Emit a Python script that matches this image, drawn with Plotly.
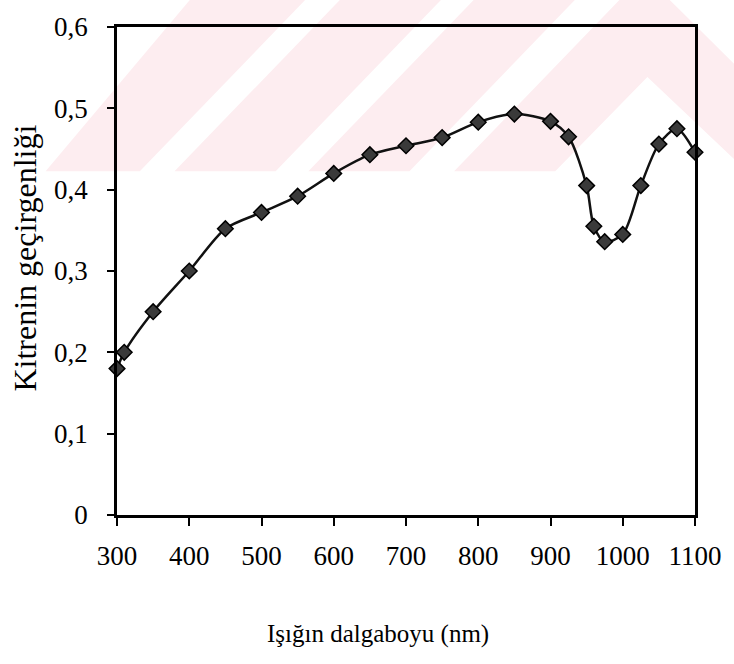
import plotly.graph_objects as go

# ---- data ----
wavelength = [300, 310, 350, 400, 450, 500, 550, 600, 650, 700, 750, 800, 850,
              900, 925, 950, 960, 975, 1000, 1025, 1050, 1075, 1100]
transmittance = [0.18, 0.20, 0.25, 0.30, 0.352, 0.372, 0.392, 0.42, 0.443, 0.454,
                 0.464, 0.483, 0.493, 0.484, 0.465, 0.405, 0.355, 0.336, 0.345,
                 0.405, 0.456, 0.475, 0.446]
y_tickvals = [0, 0.1, 0.2, 0.3, 0.4, 0.5, 0.6]
y_ticktext = ["0", "0,1", "0,2", "0,3", "0,4", "0,5", "0,6"]
x_tickvals = [300, 400, 500, 600, 700, 800, 900, 1000, 1100]
x_ticktext = ["300", "400", "500", "600", "700", "800", "900", "1000", "1100"]
x_title = "Işığın dalgaboyu (nm)"
y_title = "Kitrenin geçirgenliği"

W, H = 734, 664
ML, MR, MT, MB = 117, 34, 18, 149
PW, PH = W - ML - MR, H - MT - MB

def px2paper(px, py):
    return (px - ML) / PW, (H - MB - py) / PH

# background watermark (pink diagonal bands), pixel polygons
watermark = [
    [(45, 165), (140, 165), (312, -15), (195, -15)],
    [(175, 165), (277, 165), (449, -15), (347, -15)],
    [(310, 165), (412, 165), (584, -15), (482, -15)],
    [(457, 165), (559, 165), (652, 69), (740, 153), (740, 56), (684, 0), (669, -15), (629, -15)],
]
shapes = []
for poly in watermark:
    pts = [px2paper(x, y) for x, y in poly]
    path = "M " + " L ".join(f"{a:.5f},{b:.5f}" for a, b in pts) + " Z"
    shapes.append(dict(type="path", path=path, xref="paper", yref="paper",
                       fillcolor="#fdedf0", line=dict(width=0), layer="below"))

font_family = "Liberation Serif, Times New Roman, serif"

fig = go.Figure()
fig.add_trace(go.Scatter(
    x=wavelength, y=transmittance, mode="lines+markers",
    line=dict(color="#111111", width=2.5, shape="spline", smoothing=0.8),
    marker=dict(symbol="diamond", size=12, color="#3a3a3a",
                line=dict(color="#000000", width=1.5)),
    cliponaxis=False, showlegend=False,
))

xa, ya = px2paper(380, 636)
fig.add_annotation(text=x_title, x=xa, y=ya, xref="paper", yref="paper",
                   showarrow=False, xanchor="center", yanchor="middle",
                   font=dict(size=25, family=font_family, color="#000000"))
xb, yb = px2paper(24, 253)
fig.add_annotation(text=y_title, x=xb, y=yb, xref="paper", yref="paper",
                   showarrow=False, xanchor="center", yanchor="middle",
                   textangle=-90,
                   font=dict(size=32, family=font_family, color="#000000"))

fig.update_layout(
    width=W, height=H,
    margin=dict(l=ML, r=MR, t=MT, b=MB),
    paper_bgcolor="white", plot_bgcolor="rgba(0,0,0,0)",
    shapes=shapes,
    font=dict(family=font_family, color="#000000", size=27),
    xaxis=dict(
        range=[300, 1100], tickvals=x_tickvals, ticktext=x_ticktext,
        showgrid=False, zeroline=False, showline=True, linecolor="#000000",
        linewidth=2.5, mirror=True, ticks="outside", ticklen=8, tickwidth=2,
        tickcolor="#000000", tickfont=dict(size=27), ticklabelstandoff=7,
    ),
    yaxis=dict(
        range=[0, 0.6], tickvals=y_tickvals, ticktext=y_ticktext,
        showgrid=False, zeroline=False, showline=True, linecolor="#000000",
        linewidth=2.5, mirror=True, ticks="outside", ticklen=7, tickwidth=2,
        tickcolor="#000000", tickfont=dict(size=27), ticklabelstandoff=14,
    ),
)

fig.write_html("out.html")
